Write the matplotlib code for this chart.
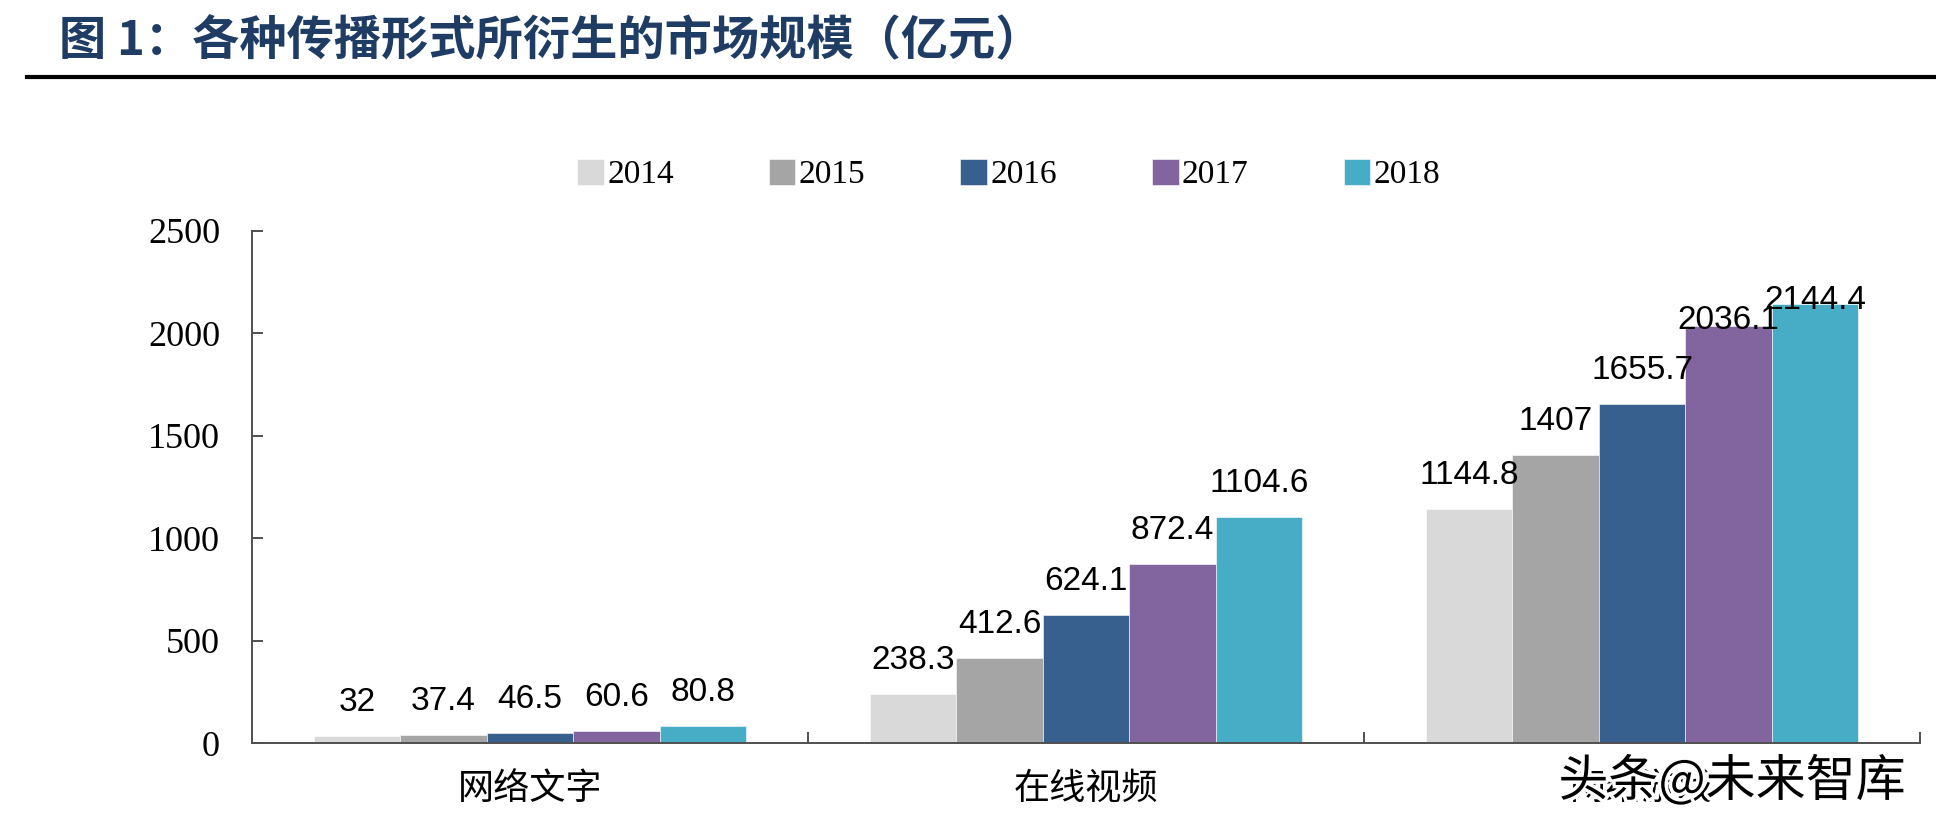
import matplotlib
matplotlib.use("Agg")
import matplotlib.pyplot as plt
import matplotlib.patheffects as pe
from matplotlib.lines import Line2D
import numpy as np

categories = ["网络文字", "在线视频", "网络游戏"]
years = ["2014", "2015", "2016", "2017", "2018"]
values = {
    "2014": [32, 238.3, 1144.8],
    "2015": [37.4, 412.6, 1407],
    "2016": [46.5, 624.1, 1655.7],
    "2017": [60.6, 872.4, 2036.1],
    "2018": [80.8, 1104.6, 2144.4],
}
colors = ["#D9D9D9", "#A5A5A5", "#38608F", "#82649E", "#47ACC6"]
yticks = [0, 500, 1000, 1500, 2000, 2500]
title = "图 1：各种传播形式所衍生的市场规模（亿元）"
watermark = "头条@未来智库"

# label nudges (points) for crowded labels: (year, category index) -> extra dy
label_nudge = {("2017", 2): -20, ("2018", 2): -22}

CJK = ["Noto Sans CJK SC", "DejaVu Sans"]
SERIF = ["Liberation Serif", "DejaVu Serif"]
SANS = ["Liberation Sans", "DejaVu Sans"]

fig = plt.figure(figsize=(19.36, 8.4), dpi=100)
ax = fig.add_axes([252 / 1936, 1 - 743 / 840, (1920 - 252) / 1936, (743 - 231) / 840])

x = np.arange(len(categories))
bw = 0.1555
for i, (yr, c) in enumerate(zip(years, colors)):
    off = (i - 2) * bw
    ax.bar(x + off, values[yr], width=bw, color=c, edgecolor="white",
           linewidth=0.4, label=yr, zorder=2)
    for j, (xi, v) in enumerate(zip(x + off, values[yr])):
        dy = 18 + label_nudge.get((yr, j), 0)
        ax.annotate(f"{v:g}", (xi, v), xytext=(0, dy), textcoords="offset points",
                    ha="center", va="baseline", fontsize=24, family=SANS,
                    color="black", zorder=5)

ax.set_xlim(-0.5, 2.5)
ax.set_ylim(0, 2500)
ax.set_yticks(yticks)
ax.set_yticklabels([str(t) for t in yticks], family=SERIF, fontsize=26)
ax.tick_params(axis="y", direction="in", length=8, width=1.4, color="#505050", pad=23)

ax.set_xticks(x)
ax.set_xticklabels(categories, family=CJK, fontsize=26)
ax.set_xticks([0.5, 1.5, 2.5], minor=True)
ax.tick_params(axis="x", which="major", length=0, pad=20)
ax.tick_params(axis="x", which="minor", direction="in", length=8, width=1.4, color="#505050")

for s in ["top", "right"]:
    ax.spines[s].set_visible(False)
for s in ["left", "bottom"]:
    ax.spines[s].set_color("#505050")
    ax.spines[s].set_linewidth(1.4)

fig.legend(loc="center", bbox_to_anchor=(0.521, 0.792), ncol=5, frameon=False,
           prop={"family": SERIF, "size": 24}, handlelength=0.8, handleheight=0.8,
           handletextpad=0.1, columnspacing=2.85)

fig.text(59 / 1936, 1 - 41 / 840, title, family=CJK, fontsize=34, fontweight="bold",
         color="#1F3C64", ha="left", va="center")
fig.add_artist(Line2D([27 / 1936, 1.0], [1 - 77 / 840, 1 - 77 / 840],
                      transform=fig.transFigure, color="black", linewidth=3))

fig.text(1732 / 1936, 1 - 782 / 840, watermark, family=CJK, fontsize=36,
         color="black", ha="center", va="center", zorder=10,
         path_effects=[pe.withStroke(linewidth=5, foreground="white")])

fig.savefig("out.png", dpi=100)
